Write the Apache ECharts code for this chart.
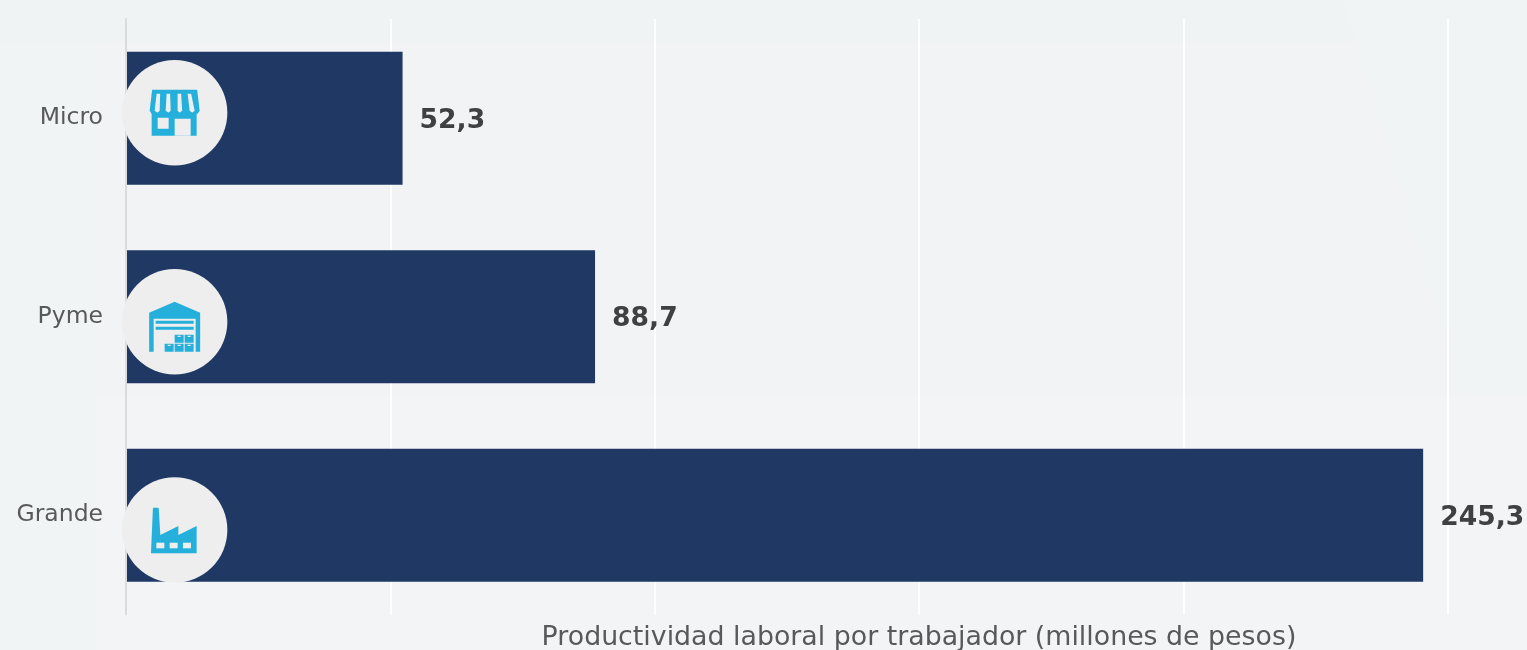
<!DOCTYPE html>
<html><head><meta charset="utf-8">
<style>html,body{margin:0;padding:0;background:#f1f4f5}#c{width:1527px;height:650px}</style>
<script src="https://cdn.jsdelivr.net/npm/echarts@6/dist/echarts.min.js"></script>
</head><body><div id="c"></div>
<script>
const categories = ['Micro', 'Pyme', 'Grande'];
const productivity = [52.3, 88.7, 245.3];
const axisTicks = [0, 50, 100, 150, 200, 250];
const axisTitle = 'Productividad laboral por trabajador (millones de pesos)';
const iconAnchorValue = 9.2;
const iconShiftY = [-5.5, 5, 14.75];
const BLUE = '#25b0dc', GREY = '#eeeeee';
function r(x0, y0, x1, y1, c) { return { p: [[x0,y0],[x1,y0],[x1,y1],[x0,y1]], c: c || BLUE }; }
function crate(x, y) { return [r(x, y, x + 9, y + 8), r(x + 3, y + 1, x + 6, y + 2.2, GREY)]; }
const iconStore = [
  { p: [[-22.5,-23],[22.5,-23],[25,-2],[23,1],[-23,1],[-25,-2]], c: BLUE },
  { p: [[-18,-19],[-14.5,-19],[-15,-2],[-17,0],[-20,-2]], c: GREY },
  { p: [[-8,-19],[-4.5,-19],[-4,-2],[-6,0],[-9,-2]], c: GREY },
  { p: [[3,-19],[6.5,-19],[7.5,-2],[5,0],[3,-2]], c: GREY },
  { p: [[13,-19],[16.5,-19],[20,-2],[17.5,0],[15,-2]], c: GREY },
  r(-23, 0, 22, 23),
  r(-17, 5, -6, 16, GREY),
  r(0, 6, 16, 23, GREY)
];
const iconWarehouse = [
  { p: [[0,-20],[25.5,-9],[25.5,30],[21,30],[21,-3],[-21,-3],[-21,30],[-25.5,30],[-25.5,-9]], c: BLUE },
  r(-19, -1, 19, 2), r(-19, 5, 19, 8),
  ...crate(0, 13), ...crate(10, 13), ...crate(-10, 22), ...crate(0, 22), ...crate(10, 22)
];
const iconFactory = [
  { p: [[-21.7,-22.3],[-16,-22.3],[-14.3,5],[3.7,-4],[3.7,5],[22,-4],[22,23.3],[-23.7,23.3]], c: BLUE },
  r(-18.3, 12.7, -10.3, 18.3, GREY), r(-5, 12.7, 3, 18.3, GREY), r(8.3, 12.7, 16.3, 18.3, GREY)
];
const icons = [iconStore, iconWarehouse, iconFactory];

const chart = echarts.init(document.getElementById('c'), null, { renderer: 'canvas' });
const bgPoly = (points, fill) => ({ type: 'polygon', z: -10, silent: true, shape: { points }, style: { fill } });
chart.setOption({
  backgroundColor: '#f1f4f5',
  animation: false,
  graphic: [
    bgPoly([[0,0],[1343,0],[1356,43],[0,43]], '#eff3f4'),
    bgPoly([[96,43],[1356,43],[1412,230],[96,230]], '#f2f3f5'),
    bgPoly([[96,230],[1412,230],[1462,395],[96,395]], '#f1f3f5'),
    bgPoly([[96,395],[1527,395],[1527,650],[96,650]], '#f2f4f5'),
    bgPoly([[695,395],[1460,395],[1460,650],[695,650]], '#f2f4f5')
  ],
  title: {
    text: axisTitle, left: 914, top: 619.5,
    textAlign: 'center',
    textStyle: { fontFamily: 'DejaVu Sans', fontSize: 26.8, fontWeight: 'normal', color: '#595959' }
  },
  grid: { left: 126, top: 19, width: 1322, height: 595.5, containLabel: false },
  xAxis: {
    type: 'value', min: axisTicks[0], max: axisTicks[axisTicks.length - 1], interval: axisTicks[1] - axisTicks[0],
    axisLabel: { show: false }, axisTick: { show: false }, axisLine: { show: false },
    splitLine: { show: true, lineStyle: { color: '#ffffff', width: 2 } }
  },
  yAxis: {
    type: 'category', data: categories, inverse: true, z: 3,
    axisTick: { show: false },
    axisLine: { show: true, lineStyle: { color: '#d9dbdd', width: 2 } },
    axisLabel: { margin: 23, padding: [3, 0, 0, 0], fontFamily: 'DejaVu Sans', fontSize: 23.5, color: '#595959' }
  },
  series: [
    {
      type: 'bar', data: productivity, barWidth: 133,
      itemStyle: { color: '#203864' },
      label: {
        show: true, position: 'right', distance: 16, offset: [1, 2.5],
        fontFamily: 'DejaVu Sans', fontSize: 26.6, fontWeight: 'bold', color: '#404040',
        formatter: p => String(p.value).replace('.', ',')
      }
    },
    {
      type: 'custom', z: 5, silent: true,
      data: categories.map((c, i) => [iconAnchorValue, i]),
      encode: { x: 0, y: 1 },
      renderItem: (params, api) => {
        const i = params.dataIndex;
        const pt = api.coord([api.value(0), i]);
        const cx = pt[0], cy = pt[1] + iconShiftY[i];
        return {
          type: 'group', x: cx, y: cy,
          children: [
            { type: 'circle', shape: { cx: 0, cy: 0, r: 52.7 }, style: { fill: GREY } },
            ...icons[i].map(s => ({ type: 'polygon', shape: { points: s.p }, style: { fill: s.c } }))
          ]
        };
      }
    }
  ]
});
</script></body></html>
